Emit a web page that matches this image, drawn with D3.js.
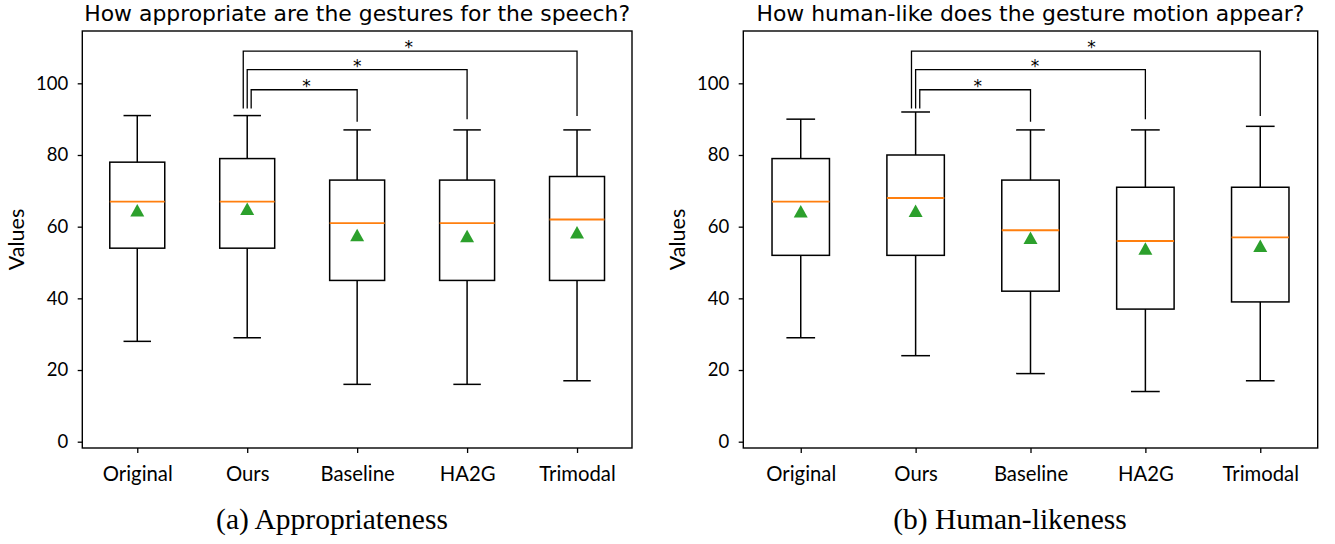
<!DOCTYPE html>
<html><head><meta charset="utf-8">
<script src="https://cdn.jsdelivr.net/npm/d3@7"></script>
<style>
body{margin:0;background:#fff;}
svg{display:block;}
</style></head>
<body><svg id="c" width="1335" height="544"></svg>
<script>
const categories = ["Original","Ours","Baseline","HA2G","Trimodal"];
const yTicks = [0,20,40,60,80,100];

// Appropriateness
const apprLow    = [28,29,16,16,17];
const apprQ1     = [54,54,45,45,45];
const apprMedian = [67,67,61,61,62];
const apprQ3     = [78,79,73,73,74];
const apprHigh   = [91,91,87,87,87];
const apprMean   = [64.4,64.8,57.5,57.2,58.2];

// Human-likeness
const humanLow    = [29,24,19,14,17];
const humanQ1     = [52,52,42,37,39];
const humanMedian = [67,68,59,56,57];
const humanQ3     = [79,80,73,71,71];
const humanHigh   = [90,92,87,87,88];
const humanMean   = [64.1,64.2,56.7,53.7,54.5];

// significance brackets: Ours vs target
const sigTargets   = [2,3,4];
const sigLevels    = [98.2,103.8,109.0];
const sigBaseLeft  = 93;
const sigBaseRight = [89.3,90.0,90.9];
const sigLabels    = ["*","*","*"];

const titles   = ["How appropriate are the gestures for the speech?","How human-like does the gesture motion appear?"];
const captions = ["(a) Appropriateness","(b) Human-likeness"];

(function(){
const svg = d3.select("#c");
const panels = [
  {x0:82.3, x1:632, capX:332, low:apprLow,q1:apprQ1,med:apprMedian,q3:apprQ3,high:apprHigh,mean:apprMean,title:titles[0],caption:captions[0],starX:[2.54,3.0,3.47]},
  {x0:743.3,x1:1317.7, capX:1010, low:humanLow,q1:humanQ1,med:humanMedian,q3:humanQ3,high:humanHigh,mean:humanMean,title:titles[1],caption:captions[1],starX:[2.54,3.04,3.53]}
];
const yTop=31,yBot=448;
const tickFont = "Lato, 'Open Sans', sans-serif";

panels.forEach(p=>{
  const x = d3.scaleLinear().domain([0.5,5.5]).range([p.x0,p.x1]);
  const y = d3.scaleLinear().domain([-1.76,114.6]).range([yBot,yTop]);
  const g = svg.append("g");
  const idx = d3.range(categories.length);
  const bw = 0.25, cw = 0.125;

  idx.forEach(i=>{
    const cx = x(i+1);
    g.append("line").attr("x1",cx).attr("x2",cx).attr("y1",y(p.q3[i])).attr("y2",y(p.high[i])).attr("stroke","#000").attr("stroke-width",1.5);
    g.append("line").attr("x1",cx).attr("x2",cx).attr("y1",y(p.q1[i])).attr("y2",y(p.low[i])).attr("stroke","#000").attr("stroke-width",1.5);
    g.append("line").attr("x1",x(i+1-cw)).attr("x2",x(i+1+cw)).attr("y1",y(p.high[i])).attr("y2",y(p.high[i])).attr("stroke","#000").attr("stroke-width",1.5);
    g.append("line").attr("x1",x(i+1-cw)).attr("x2",x(i+1+cw)).attr("y1",y(p.low[i])).attr("y2",y(p.low[i])).attr("stroke","#000").attr("stroke-width",1.5);
    g.append("rect").attr("x",x(i+1-bw)).attr("width",x(i+1+bw)-x(i+1-bw))
      .attr("y",y(p.q3[i])).attr("height",y(p.q1[i])-y(p.q3[i]))
      .attr("fill","none").attr("stroke","#000").attr("stroke-width",1.5);
    g.append("line").attr("x1",x(i+1-bw)).attr("x2",x(i+1+bw)).attr("y1",y(p.med[i])).attr("y2",y(p.med[i])).attr("stroke","#ff7f0e").attr("stroke-width",1.8);
    const my = y(p.mean[i]);
    g.append("path").attr("d",`M${cx},${my-7}L${cx+7},${my+5.5}L${cx-7},${my+5.5}Z`).attr("fill","#2ca02c");
  });

  const offs = [0.036,0,-0.036];
  sigTargets.forEach((t,k)=>{
    const xl = x(2+offs[k]), xr = x(t+1), ly = y(sigLevels[k]);
    g.append("path").attr("d",`M${xl},${y(sigBaseLeft)}V${ly}H${xr}V${y(sigBaseRight[k])}`)
      .attr("fill","none").attr("stroke","#000").attr("stroke-width",1.3);
    g.append("text").attr("x",x(p.starX[k])).attr("y",ly+2).attr("text-anchor","middle")
      .attr("font-family","DejaVu Sans").attr("font-size",17).text(sigLabels[k]);
  });

  g.append("rect").attr("x",p.x0).attr("y",yTop).attr("width",p.x1-p.x0).attr("height",yBot-yTop)
    .attr("fill","none").attr("stroke","#000").attr("stroke-width",1.4);

  const ya = g.append("g").attr("transform",`translate(${p.x0},0)`)
    .call(d3.axisLeft(y).tickValues(yTicks).tickSize(4.6).tickPadding(9.5));
  ya.select(".domain").remove();
  ya.selectAll("text").attr("font-family",tickFont).attr("font-size",18.5).attr("fill","#000");
  ya.selectAll("line").attr("stroke","#000").attr("stroke-width",1.3);

  const xa = g.append("g").attr("transform",`translate(0,${yBot})`)
    .call(d3.axisBottom(x).tickValues(idx.map(i=>i+1)).tickFormat(d=>categories[d-1]).tickSize(5).tickPadding(13.5));
  xa.select(".domain").remove();
  xa.selectAll("text").attr("font-family",tickFont).attr("font-size",20.3).attr("fill","#000");
  xa.selectAll("line").attr("stroke","#000").attr("stroke-width",1.3);

  g.append("text").attr("transform",`translate(${p.x0-58.5},${(yTop+yBot)/2}) rotate(-90)`)
    .attr("text-anchor","middle").attr("font-family",tickFont).attr("font-size",21.5).text("Values");

  g.append("text").attr("x",(p.x0+p.x1)/2).attr("y",21).attr("text-anchor","middle")
    .attr("font-family","DejaVu Sans").attr("font-size",21.9).text(p.title);

  g.append("text").attr("x",p.capX).attr("y",529).attr("text-anchor","middle")
    .attr("font-family","'Liberation Serif', serif").attr("font-size",29.5).text(p.caption);
});
})();
</script></body></html>
